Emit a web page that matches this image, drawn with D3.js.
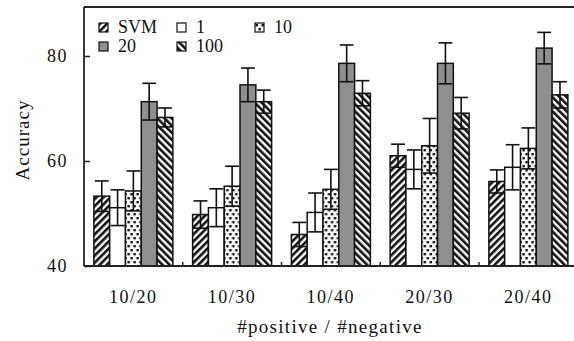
<!DOCTYPE html>
<meta charset="utf-8">
<head>
  <style>
    body { margin: 0; background: #fff; }
    text { font-family: "Liberation Serif", "DejaVu Serif", serif; fill: #111; }
    .tick-label { font-size: 18px; letter-spacing: 1.5px; }
    .legend-label { font-size: 18px; }
  </style>
  <script src="https://cdn.jsdelivr.net/npm/d3@7"></script>
</head>
<body>
<script>

// values
var categories = ["10/20", "10/30", "10/40", "20/30", "20/40"];
var seriesNames = ["SVM", "1", "10", "20", "100"];

var svmVals = [53.3, 49.8, 46.0, 61.0, 56.1];
var oneVals = [51.1, 51.1, 50.2, 58.4, 58.8];
var tenVals = [54.3, 55.2, 54.6, 62.9, 62.4];
var twentyVals = [71.3, 74.5, 78.6, 78.6, 81.5];
var hundredVals = [68.3, 71.3, 72.9, 69.1, 72.6];

var svmErr = [2.9, 2.6, 2.3, 2.2, 2.2];
var oneErr = [3.4, 3.6, 3.7, 3.7, 4.3];
var tenErr = [3.8, 3.8, 3.8, 5.2, 3.9];
var twentyErr = [3.5, 3.2, 3.5, 3.9, 3.0];
var hundredErr = [1.8, 2.2, 2.4, 3.0, 2.5];

var yTicks = [40, 60, 80];

var allVals = [svmVals, oneVals, tenVals, twentyVals, hundredVals];
var allErr = [svmErr, oneErr, tenErr, twentyErr, hundredErr];

var width = 574, height = 341;
var plotLeft = 84, plotTop = 7, plotBottom = 266, plotRight = 577.75;

var svg = d3.select("body").append("svg")
    .attr("width", width)
    .attr("height", height);

// patterns for the bar fills
var defs = svg.append("defs");

var pSvm = defs.append("pattern").attr("id", "p-svm")
    .attr("patternUnits", "userSpaceOnUse").attr("width", 5).attr("height", 5)
    .attr("patternTransform", "rotate(45)");
pSvm.append("rect").attr("width", 5).attr("height", 5).attr("fill", "#fff");
pSvm.append("rect").attr("width", 2.6).attr("height", 5).attr("fill", "#111");

var pHundred = defs.append("pattern").attr("id", "p-100")
    .attr("patternUnits", "userSpaceOnUse").attr("width", 5).attr("height", 5)
    .attr("patternTransform", "rotate(-45)");
pHundred.append("rect").attr("width", 5).attr("height", 5).attr("fill", "#fff");
pHundred.append("rect").attr("width", 2.6).attr("height", 5).attr("fill", "#111");

var pTen = defs.append("pattern").attr("id", "p-10")
    .attr("patternUnits", "userSpaceOnUse").attr("width", 6).attr("height", 8);
pTen.append("rect").attr("width", 6).attr("height", 8).attr("fill", "#fff");
pTen.append("rect").attr("x", 0.5).attr("y", 1).attr("width", 2.4).attr("height", 2.4).attr("fill", "#111");
pTen.append("rect").attr("x", 3.5).attr("y", 5).attr("width", 2.4).attr("height", 2.4).attr("fill", "#111");

var fills = ["url(#p-svm)", "#fff", "url(#p-10)", "#8f8f8f", "url(#p-100)"];

// scales
var x0 = d3.scaleBand().domain(categories).range([plotLeft, plotRight])
    .paddingInner(0.2).paddingOuter(0.1);
var x1 = d3.scaleBand().domain(seriesNames).range([0, x0.bandwidth()]);
var y = d3.scaleLinear().domain([40, 89.33]).range([plotBottom, plotTop]);

function rows(c, ci) {
  return seriesNames.map(function(s, si) {
    return { s: s, si: si, v: allVals[si][ci], e: allErr[si][ci] };
  });
}

// bars
var groups = svg.append("g").selectAll("g")
    .data(categories)
    .enter().append("g")
    .attr("transform", function(d) { return "translate(" + x0(d) + ",0)"; });

groups.selectAll("rect")
    .data(rows)
    .enter().append("rect")
    .attr("x", function(d) { return x1(d.s); })
    .attr("y", function(d) { return y(d.v); })
    .attr("width", x1.bandwidth())
    .attr("height", function(d) { return y(40) - y(d.v); })
    .attr("fill", function(d) { return fills[d.si]; })
    .attr("stroke", "#111")
    .attr("stroke-width", 1.5);

// error bars
var err = groups.selectAll("g.err")
    .data(rows)
    .enter().append("g").attr("class", "err")
    .attr("stroke", "#111").attr("stroke-width", 1.6);

err.append("line")
    .attr("x1", function(d) { return x1(d.s) + x1.bandwidth() / 2; })
    .attr("x2", function(d) { return x1(d.s) + x1.bandwidth() / 2; })
    .attr("y1", function(d) { return y(d.v + d.e); })
    .attr("y2", function(d) { return y(d.v - d.e); });
err.append("line")
    .attr("x1", function(d) { return x1(d.s) + 1; })
    .attr("x2", function(d) { return x1(d.s) + x1.bandwidth() - 1; })
    .attr("y1", function(d) { return y(d.v + d.e); })
    .attr("y2", function(d) { return y(d.v + d.e); });
err.append("line")
    .attr("x1", function(d) { return x1(d.s) + 1; })
    .attr("x2", function(d) { return x1(d.s) + x1.bandwidth() - 1; })
    .attr("y1", function(d) { return y(d.v - d.e); })
    .attr("y2", function(d) { return y(d.v - d.e); });

// frame
var frame = svg.append("g").attr("stroke", "#222").attr("stroke-width", 1.8).attr("fill", "none");
frame.append("line").attr("x1", plotLeft).attr("x2", width).attr("y1", plotTop).attr("y2", plotTop);
frame.append("line").attr("x1", plotLeft).attr("x2", plotLeft).attr("y1", plotTop).attr("y2", plotBottom);
frame.append("line").attr("x1", plotLeft).attr("x2", width).attr("y1", plotBottom).attr("y2", plotBottom);

// y axis ticks, inward
var yAxis = svg.append("g")
    .attr("transform", "translate(" + plotLeft + ",0)")
    .call(d3.axisRight(y).tickValues(yTicks).tickSize(6).tickFormat(""));
yAxis.select(".domain").remove();
yAxis.selectAll("line").attr("stroke", "#222").attr("stroke-width", 1.5);

svg.append("g").selectAll("text")
    .data(yTicks)
    .enter().append("text")
    .attr("class", "tick-label")
    .attr("x", 68)
    .attr("y", function(d) { return y(d); })
    .attr("dy", "0.35em")
    .attr("text-anchor", "end")
    .text(function(d) { return d; });

// x ticks between groups, small and inward
svg.append("g").selectAll("line")
    .data(categories.slice(1))
    .enter().append("line")
    .attr("x1", function(d) { return x0(d) - x0.step() * x0.paddingInner() / 2; })
    .attr("x2", function(d) { return x0(d) - x0.step() * x0.paddingInner() / 2; })
    .attr("y1", plotBottom)
    .attr("y2", plotBottom - 4)
    .attr("stroke", "#222").attr("stroke-width", 1.5);

svg.append("g").selectAll("text")
    .data(categories)
    .enter().append("text")
    .attr("class", "tick-label")
    .attr("x", function(d) { return x0(d) + x0.bandwidth() / 2; })
    .attr("y", 303)
    .attr("text-anchor", "middle")
    .text(function(d) { return d; });

// axis titles
svg.append("text")
    .attr("x", 330).attr("y", 333)
    .attr("text-anchor", "middle")
    .style("font-size", "19px")
    .style("letter-spacing", "1.3px")
    .text("#positive / #negative");

svg.append("text")
    .attr("transform", "translate(29,140) rotate(-90)")
    .attr("text-anchor", "middle")
    .style("font-size", "19px")
    .style("letter-spacing", "1px")
    .text("Accuracy");

// legend
var legend = svg.append("g").selectAll("g")
    .data(seriesNames)
    .enter().append("g")
    .attr("transform", function(d, i) {
      return "translate(" + (99 + (i % 3) * 78) + "," + (23 + Math.floor(i / 3) * 19) + ")";
    });

legend.append("rect")
    .attr("width", 9).attr("height", 9)
    .attr("fill", function(d, i) { return fills[i]; })
    .attr("stroke", "#111").attr("stroke-width", 1.2);

legend.append("text")
    .attr("class", "legend-label")
    .attr("x", 19).attr("y", 10)
    .text(function(d) { return d; });

</script>
</body>
